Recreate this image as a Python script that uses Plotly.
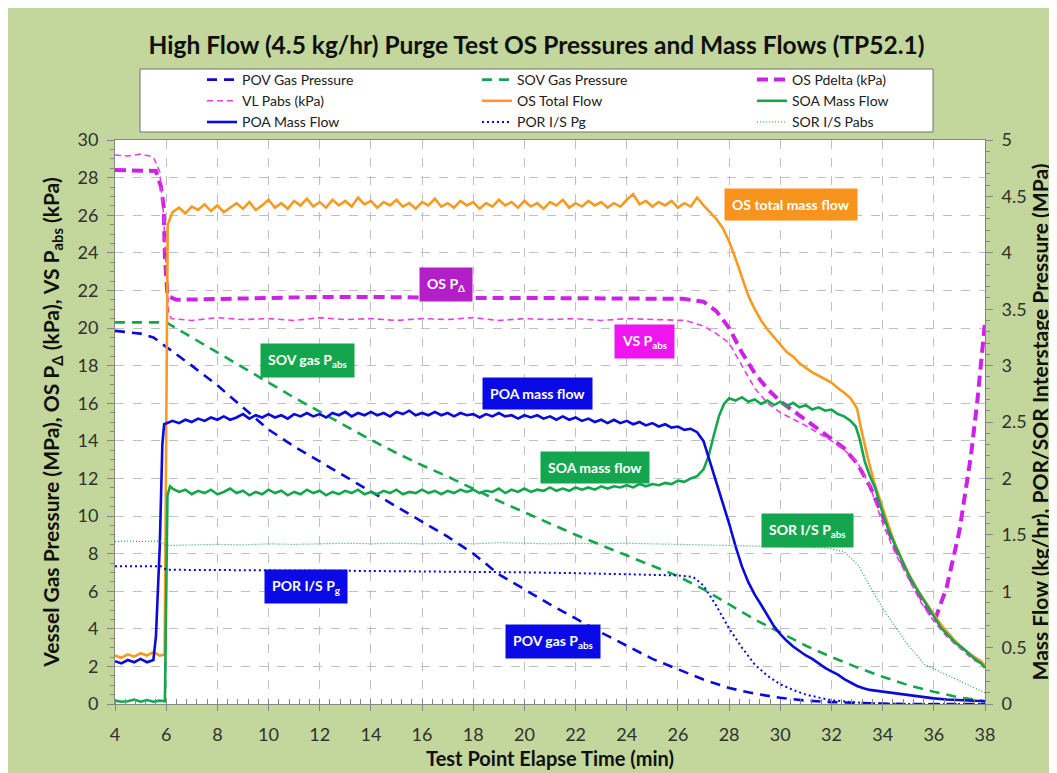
import plotly.graph_objects as go

# ---------------- data ----------------
# shared sampling times for the steady (noisy) part of the flow traces
T_FLAT = [6.25, 6.5, 6.75, 7.0, 7.25, 7.5, 7.75, 8.0,
          8.25, 8.5, 8.75, 9.0, 9.25, 9.5, 9.75, 10.0,
          10.25, 10.5, 10.75, 11.0, 11.25, 11.5, 11.75, 12.0,
          12.25, 12.5, 12.75, 13.0, 13.25, 13.5, 13.75, 14.0,
          14.25, 14.5, 14.75, 15.0, 15.25, 15.5, 15.75, 16.0,
          16.25, 16.5, 16.75, 17.0, 17.25, 17.5, 17.75, 18.0,
          18.25, 18.5, 18.75, 19.0, 19.25, 19.5, 19.75, 20.0,
          20.25, 20.5, 20.75, 21.0, 21.25, 21.5, 21.75, 22.0,
          22.25, 22.5, 22.75, 23.0, 23.25, 23.5, 23.75, 24.0,
          24.25, 24.5, 24.75, 25.0, 25.25, 25.5, 25.75, 26.0,
          26.25, 26.5, 26.75]

# POV gas pressure (MPa, left axis)
POV_T = [4.0, 5.0, 5.5, 6.0, 7.0, 8.0, 9.0, 10.0, 11.0, 12.0, 13.0, 14.0, 15.0, 16.0,
         17.0, 18.0, 19.0, 20.0, 21.0, 22.0, 23.0, 24.0, 25.0, 26.0, 27.0, 28.0, 29.0,
         30.0, 31.0, 32.0, 33.0, 34.0, 35.0, 38.0]
POV_P = [19.85, 19.7, 19.5, 19.0, 18.0, 16.95, 15.8, 14.6, 13.7, 12.9, 12.1, 11.3, 10.5, 9.7,
         8.9, 8.0, 6.9, 6.1, 5.3, 4.55, 3.8, 3.1, 2.4, 1.85, 1.3, 0.85, 0.55,
         0.33, 0.18, 0.1, 0.05, 0.02, 0.0, 0.0]

# SOV gas pressure (MPa, left axis)
SOV_T = [4.0, 5.0, 6.0, 7.0, 8.0, 9.0, 10.0, 11.0, 12.0, 13.0, 14.0, 15.0, 16.0, 17.0,
         18.0, 19.0, 20.0, 21.0, 22.0, 23.0, 24.0, 25.0, 26.0, 27.0, 28.0, 29.0, 30.0,
         31.0, 32.0, 33.0, 34.0, 35.0, 36.0, 37.0, 38.0]
SOV_P = [20.3, 20.3, 20.3, 19.5, 18.7, 17.9, 17.1, 16.3, 15.55, 14.8, 14.05, 13.35, 12.7, 12.1,
         11.45, 10.8, 10.2, 9.6, 9.0, 8.45, 7.9, 7.35, 6.8, 6.1, 5.3, 4.5, 3.8,
         3.1, 2.5, 1.95, 1.45, 1.0, 0.65, 0.35, 0.15]

# OS Pdelta (kPa, left axis)
DP_T = [4.0, 5.0, 5.6, 5.8, 5.9, 5.95, 6.05, 6.4, 8.0, 10.0, 12.0, 14.0, 16.0, 18.0, 20.0,
        22.0, 24.0, 26.2, 27.0, 27.5, 28.0, 28.5, 29.0, 29.5, 30.0, 30.5, 31.0, 31.5,
        32.0, 32.5, 33.0, 33.5, 34.0, 34.5, 35.0, 35.5, 35.9, 36.05, 36.5, 37.0, 37.45,
        37.7, 38.0]
DP_P = [28.4, 28.4, 28.35, 27.5, 26.5, 23.8, 21.7, 21.5, 21.55, 21.6, 21.65, 21.65, 21.6, 21.6, 21.6,
        21.6, 21.55, 21.55, 21.4, 20.9, 20.0, 18.7, 17.6, 16.75, 16.1, 15.6, 15.1, 14.6,
        14.1, 13.6, 12.8, 11.6, 10.0, 8.3, 6.85, 5.6, 4.7, 4.5, 6.2, 9.2, 13.2,
        16.1, 20.3]

# VL Pabs (kPa, left axis)
VL_T = [4.0, 4.5, 5.0, 5.5, 5.75, 5.9, 6.0, 6.1, 6.2, 7.0, 8.0, 9.0, 10.0, 11.0, 12.0, 13.0,
        14.0, 15.0, 16.0, 17.0, 18.0, 19.0, 20.0, 21.0, 22.0, 23.0, 24.0, 25.0, 26.3, 27.0,
        27.5, 28.0, 28.5, 29.0, 29.5, 30.0, 30.5, 31.0, 31.5, 32.0, 32.5, 33.0, 33.5, 34.0,
        34.5, 35.0, 35.5, 36.0, 36.5, 37.0, 37.5, 38.0]
VL_P = [29.2, 29.15, 29.25, 29.1, 28.3, 26.0, 23.2, 20.8, 20.5, 20.4, 20.55, 20.45, 20.5, 20.4, 20.55, 20.45,
        20.5, 20.4, 20.5, 20.45, 20.55, 20.4, 20.5, 20.45, 20.5, 20.4, 20.5, 20.45, 20.4, 20.1,
        19.7, 19.2, 18.0, 16.8, 16.0, 15.5, 15.15, 14.8, 14.4, 14.0, 13.5, 12.9, 11.6, 9.6,
        8.0, 6.7, 5.4, 4.4, 3.6, 3.0, 2.4, 2.0]

# OS total flow (kg/hr, right axis)
TOT_T = ([4.0, 4.25, 4.5, 4.75, 5.0, 5.25, 5.5, 5.75, 5.94, 6.0, 6.06] + T_FLAT +
         [27.0, 27.25, 27.5, 27.75, 28.0, 28.25, 28.5, 28.75, 29.0, 29.25, 29.5, 29.75,
          30.0, 30.25, 30.5, 30.75, 31.0, 31.25, 31.5, 31.75, 32.0, 32.25, 32.5, 32.75,
          33.0, 33.15, 33.4, 33.65, 33.9, 34.2, 34.45, 34.75, 35.1, 35.4, 35.75, 36.1,
          36.4, 36.75, 37.1, 37.5, 37.85, 38.0])
TOT_F = ([0.43, 0.41, 0.44, 0.42, 0.45, 0.43, 0.46, 0.43, 0.44, 2.6, 4.25] +
         [4.36, 4.40, 4.35, 4.41, 4.38, 4.43, 4.37, 4.42,
          4.36, 4.40, 4.44, 4.39, 4.45, 4.38, 4.42, 4.47,
          4.40, 4.44, 4.39, 4.46, 4.42, 4.48, 4.41, 4.45,
          4.40, 4.47, 4.42, 4.46, 4.41, 4.49, 4.43, 4.46,
          4.40, 4.45, 4.42, 4.47, 4.41, 4.44, 4.39, 4.45,
          4.42, 4.48, 4.41, 4.44, 4.40, 4.46, 4.42, 4.45,
          4.39, 4.44, 4.41, 4.47, 4.42, 4.45, 4.40, 4.46,
          4.41, 4.44, 4.39, 4.45, 4.42, 4.47, 4.40, 4.44,
          4.41, 4.46, 4.42, 4.45, 4.40, 4.44, 4.41, 4.47,
          4.52, 4.43, 4.46, 4.41, 4.45, 4.42, 4.46, 4.40,
          4.44, 4.41, 4.49] +
         [4.42, 4.36, 4.30, 4.22, 4.10, 3.95, 3.78, 3.62, 3.50, 3.40, 3.32, 3.25,
          3.19, 3.12, 3.08, 3.02, 2.98, 2.94, 2.91, 2.88, 2.85, 2.80, 2.76, 2.71,
          2.62, 2.45, 2.20, 1.98, 1.80, 1.60, 1.44, 1.28, 1.12, 1.00, 0.88, 0.76,
          0.67, 0.58, 0.50, 0.43, 0.38, 0.34])

# SOA mass flow (kg/hr, right axis)
SOA_T = ([4.0, 4.25, 4.5, 4.75, 5.0, 5.25, 5.5, 5.75, 5.95, 6.0, 6.05, 6.15] + T_FLAT +
         [27.0, 27.2, 27.4, 27.6, 27.8, 28.0, 28.25, 28.5, 28.75, 29.0, 29.25, 29.5,
          29.75, 30.0, 30.25, 30.5, 30.75, 31.0, 31.25, 31.5, 31.75, 32.0, 32.25, 32.5,
          32.75, 32.95, 33.1, 33.3, 33.5, 33.7, 33.95, 34.2, 34.5, 34.75, 35.0, 35.3,
          35.55, 35.8, 36.05, 36.3, 36.6, 36.85, 37.1, 37.35, 37.6, 37.85, 38.0])
SOA_F = ([0.03, 0.02, 0.025, 0.04, 0.02, 0.035, 0.02, 0.03, 0.025, 1.0, 1.85, 1.93] +
         [1.91, 1.88, 1.90, 1.86, 1.89, 1.87, 1.90, 1.86,
          1.88, 1.91, 1.87, 1.89, 1.85, 1.88, 1.86, 1.90,
          1.87, 1.89, 1.85, 1.88, 1.86, 1.90, 1.87, 1.89,
          1.85, 1.88, 1.86, 1.89, 1.87, 1.90, 1.86, 1.88,
          1.86, 1.89, 1.87, 1.90, 1.86, 1.88, 1.87, 1.90,
          1.87, 1.89, 1.86, 1.89, 1.87, 1.90, 1.88, 1.90,
          1.87, 1.89, 1.88, 1.91, 1.87, 1.90, 1.88, 1.91,
          1.88, 1.90, 1.89, 1.92, 1.89, 1.91, 1.89, 1.92,
          1.90, 1.92, 1.90, 1.93, 1.91, 1.93, 1.92, 1.94,
          1.92, 1.95, 1.93, 1.95, 1.94, 1.96, 1.95, 1.98,
          1.97, 2.00, 2.02] +
         [2.08, 2.20, 2.38, 2.55, 2.66, 2.71, 2.69, 2.72, 2.68, 2.70, 2.66, 2.69,
          2.65, 2.68, 2.64, 2.67, 2.63, 2.65, 2.61, 2.63, 2.60, 2.61, 2.57, 2.55,
          2.51, 2.46, 2.35, 2.15, 2.02, 1.92, 1.73, 1.56, 1.40, 1.27, 1.15, 1.03,
          0.94, 0.85, 0.76, 0.67, 0.60, 0.54, 0.50, 0.45, 0.40, 0.36, 0.32])

# POA mass flow (kg/hr, right axis)
POA_T = ([4.0, 4.25, 4.5, 4.75, 5.0, 5.25, 5.5, 5.6, 5.75, 5.85, 5.92] + T_FLAT +
         [27.0, 27.25, 27.5, 27.75, 28.0, 28.25, 28.5, 28.75, 29.0, 29.25, 29.5, 29.75,
          30.0, 30.25, 30.5, 30.75, 31.0, 31.25, 31.5, 31.75, 32.0, 32.25, 32.5, 32.75,
          33.0, 33.25, 33.5, 34.0, 34.5, 35.0, 35.5, 36.0, 36.5, 37.0, 37.5, 38.0])
POA_F = ([0.38, 0.36, 0.39, 0.37, 0.40, 0.37, 0.39, 0.6, 1.4, 2.3, 2.48] +
         [2.51, 2.49, 2.52, 2.50, 2.53, 2.51, 2.54, 2.52,
          2.55, 2.52, 2.54, 2.57, 2.53, 2.56, 2.54, 2.57,
          2.54, 2.56, 2.53, 2.57, 2.55, 2.58, 2.55, 2.57,
          2.54, 2.58, 2.56, 2.59, 2.55, 2.58, 2.56, 2.59,
          2.56, 2.58, 2.55, 2.59, 2.57, 2.60, 2.56, 2.58,
          2.56, 2.59, 2.56, 2.58, 2.55, 2.58, 2.56, 2.57,
          2.54, 2.57, 2.55, 2.58, 2.55, 2.56, 2.53, 2.56,
          2.54, 2.56, 2.53, 2.55, 2.52, 2.55, 2.52, 2.54,
          2.51, 2.53, 2.50, 2.52, 2.49, 2.52, 2.49, 2.51,
          2.48, 2.50, 2.47, 2.49, 2.46, 2.48, 2.45, 2.46,
          2.43, 2.44, 2.41] +
         [2.33, 2.15, 1.97, 1.77, 1.60, 1.40, 1.22, 1.08, 0.97, 0.88, 0.78, 0.69,
          0.62, 0.56, 0.51, 0.47, 0.43, 0.40, 0.36, 0.32, 0.29, 0.26, 0.22, 0.19,
          0.16, 0.14, 0.125, 0.11, 0.095, 0.075, 0.06, 0.05, 0.04, 0.035, 0.03, 0.025])

# POR interstage Pg (MPa, right axis)
POR_T = [4.0, 5.0, 5.8, 6.0, 8.0, 10.0, 12.0, 14.0, 16.0, 18.0, 20.0, 22.0, 24.0, 26.0,
         26.6, 27.0, 27.5, 28.0, 28.5, 29.0, 29.5, 30.0, 30.5, 31.0, 31.5, 32.0, 33.0,
         34.0, 35.0, 38.0]
POR_P = [1.222, 1.222, 1.222, 1.19, 1.19, 1.185, 1.183, 1.18, 1.175, 1.172, 1.167, 1.16, 1.15, 1.14,
         1.125, 1.05, 0.87, 0.67, 0.50, 0.35, 0.25, 0.175, 0.125, 0.083, 0.058, 0.033, 0.013,
         0.003, 0.0, 0.0]

# SOR interstage Pabs (MPa, right axis)
SOR_T = [4.0, 4.5, 5.0, 5.5, 5.8, 6.0, 7.0, 8.0, 9.0, 10.0, 11.0, 12.0, 13.0, 14.0, 15.0,
         16.0, 17.0, 18.0, 19.0, 20.0, 21.0, 22.0, 23.0, 24.0, 25.0, 26.0, 27.0, 28.0,
         29.0, 30.0, 31.0, 31.9, 32.5, 33.05, 33.7, 34.35, 35.0, 35.65, 36.3, 37.0, 37.8, 38.0]
SOR_P = [1.44, 1.445, 1.44, 1.445, 1.44, 1.405, 1.41, 1.415, 1.41, 1.42, 1.415, 1.42, 1.425, 1.42, 1.425,
         1.42, 1.425, 1.42, 1.43, 1.425, 1.42, 1.425, 1.42, 1.425, 1.42, 1.42, 1.415, 1.41,
         1.405, 1.40, 1.39, 1.38, 1.35, 1.23, 0.96, 0.73, 0.52, 0.35, 0.28, 0.20, 0.12, 0.10]

X_TICKS = [4, 6, 8, 10, 12, 14, 16, 18, 20, 22, 24, 26, 28, 30, 32, 34, 36, 38]

# ---------------- styling ----------------
BLUE = "#0A0ADC"
GREEN = "#14A64E"
ORANGE = "#F59B22"
MAG_THICK = "#CC22E8"
MAG_THIN = "#EC3CE4"
BG = "#C3D69B"
FONT = "Lato"

fig = go.Figure()

def add(x, y, name, color, width, dash, axis):
    fig.add_trace(go.Scatter(x=x, y=y, name=name, mode="lines", yaxis=axis,
                             line=dict(color=color, width=width, dash=dash)))

add(POV_T, POV_P, "POV Gas Pressure", BLUE, 2.6, "10px,7px", "y")
add(SOV_T, SOV_P, "SOV Gas Pressure", GREEN, 2.6, "10px,7px", "y")
add(DP_T, DP_P, "OS Pdelta (kPa)", MAG_THICK, 4, "11px,6px", "y")
add(VL_T, VL_P, "VL Pabs (kPa)", MAG_THIN, 1.6, "6px,4px", "y")
add(TOT_T, TOT_F, "OS Total Flow", ORANGE, 2.6, "solid", "y2")
add(SOA_T, SOA_F, "SOA Mass Flow", GREEN, 2.6, "solid", "y2")
add(POA_T, POA_F, "POA Mass Flow", BLUE, 2.6, "solid", "y2")
add(POR_T, POR_P, "POR I/S Pg", BLUE, 2.0, "2px,3px", "y2")
add(SOR_T, SOR_P, "SOR I/S Pabs", GREEN, 1.2, "1px,2px", "y2")

axis_common = dict(showline=True, linecolor="#868686", linewidth=1, zeroline=False,
                   tickfont=dict(family=FONT, size=18, color="#303030"),
                   tickcolor="#868686")

fig.update_layout(
    width=1057, height=773, autosize=False,
    margin=dict(l=107, r=80, t=132, b=77),
    paper_bgcolor=BG, plot_bgcolor="white",
    font=dict(family=FONT, size=14, color="#202020"),
    title=dict(text="<b>High Flow (4.5 kg/hr) Purge Test OS Pressures and Mass Flows (TP52.1)</b>",
               x=0.5, xanchor="center", y=1 - 37 / 773, yanchor="middle",
               font=dict(family=FONT, size=24.5, color="#101010")),
    xaxis=dict(range=[4, 38], tickvals=X_TICKS, showgrid=True, gridcolor="#BFBFBF",
               griddash="dash", gridwidth=1, mirror=True, ticks="outside", ticklen=6,
               ticklabelstandoff=8,
               minor=dict(dtick=0.4, tick0=4, ticks="inside", ticklen=5, tickcolor="#868686",
                          showgrid=False),
               title=dict(text="<b>Test Point Elapse Time (min)</b>", standoff=8,
                          font=dict(family=FONT, size=20, color="#101010")),
               **axis_common),
    yaxis=dict(range=[0, 30], dtick=2, showgrid=True, gridcolor="#BFBFBF", griddash="dash",
               gridwidth=1, ticks="outside", ticklen=7, ticklabelstandoff=5,
               minor=dict(dtick=0.5, ticks="outside", ticklen=4, tickcolor="#868686",
                          showgrid=False),
               title=dict(text="<b>Vessel Gas Pressure (MPa), OS P<sub>Δ</sub> (kPa), VS P<sub>abs</sub> (kPa)</b>",
                          standoff=12, font=dict(family=FONT, size=21, color="#101010")),
               **axis_common),
    yaxis2=dict(range=[0, 5], dtick=0.5, overlaying="y", side="right", showgrid=False,
                ticks="outside", ticklen=7, ticklabelstandoff=5,
                minor=dict(dtick=0.1, ticks="outside", ticklen=4, tickcolor="#868686",
                           showgrid=False),
                title=dict(text="<b>Mass Flow (kg/hr), POR/SOR Interstage Pressure (MPa)</b>",
                           standoff=5, font=dict(family=FONT, size=21, color="#101010")),
                **axis_common),
    legend=dict(orientation="h", x=(194 - 107) / 870, xanchor="left",
                y=(696 - 56) / 564, yanchor="top", bgcolor="rgba(0,0,0,0)",
                borderwidth=0, entrywidth=230, entrywidthmode="pixels",
                font=dict(family=FONT, size=14, color="#202020"), tracegroupgap=0),
    showlegend=True,
)

# legend frame
fig.add_shape(type="rect", xref="paper", yref="paper",
              x0=(132 - 107) / 870, x1=(925 - 107) / 870,
              y0=(696 - 124) / 564, y1=(696 - 61) / 564,
              line=dict(color="#707070", width=1), fillcolor="white", layer="below")

# callout labels
LABELS = [
    ("OS total mass flow", 30.42, 26.55, "#F7941D"),
    ("OS P<sub>Δ</sub>", 16.93, 22.3, "#B41EC8"),
    ("VS P<sub>abs</sub>", 24.71, 19.28, "#F014F0"),
    ("SOV gas P<sub>abs</sub>", 11.54, 18.27, "#14A64E"),
    ("POA mass flow", 20.53, 16.52, "#0A0AE6"),
    ("SOA mass flow", 22.76, 12.59, "#14A64E"),
    ("POR I/S P<sub>g</sub>", 11.46, 6.27, "#0A0AE6"),
    ("POV gas P<sub>abs</sub>", 21.1, 3.35, "#0A0AE6"),
    ("SOR I/S P<sub>abs</sub>", 31.08, 9.24, "#14A64E"),
]
for text, x, y, col in LABELS:
    fig.add_annotation(x=x, y=y, xref="x", yref="y", text="<b>" + text + "</b>",
                       showarrow=False, bgcolor=col, borderpad=7,
                       font=dict(family=FONT, size=14, color="white"))

fig.write_html("out.html")
